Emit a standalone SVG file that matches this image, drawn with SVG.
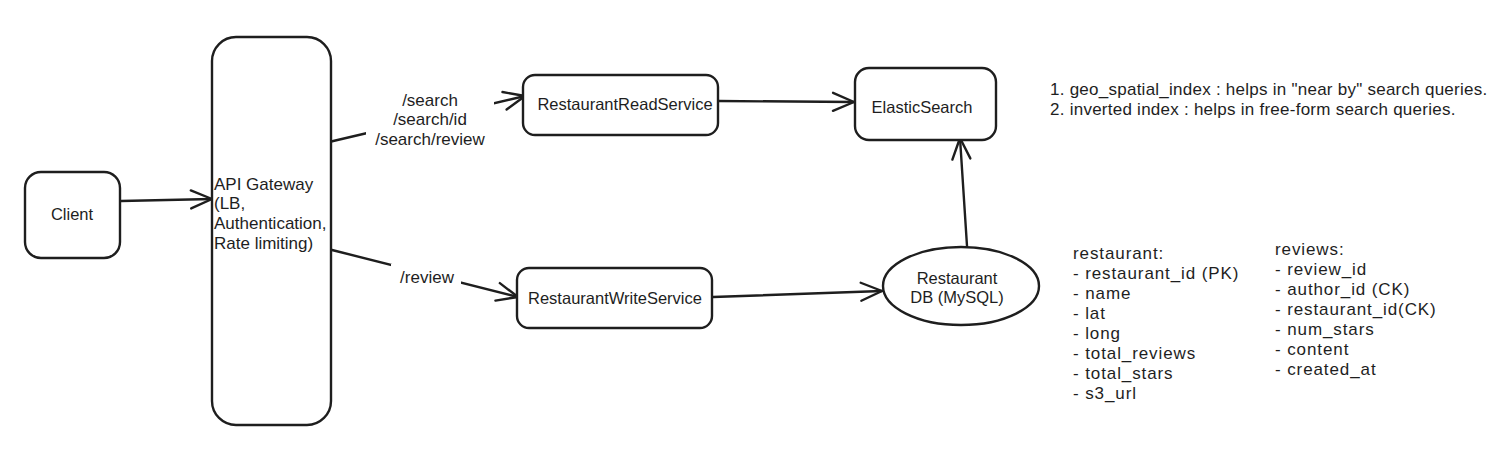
<svg xmlns="http://www.w3.org/2000/svg" width="1507" height="453" viewBox="0 0 1507 453">
<defs>
<style>
.box{fill:#fff;stroke:#1e1e1e;stroke-width:2.4}
.edge{fill:none;stroke:#1e1e1e;stroke-width:2.4;stroke-linecap:round}
text{font-family:"Liberation Sans",Arial,sans-serif;font-size:17px;fill:#1e1e1e}
.c{text-anchor:middle}
.bl{font-size:16.5px}
.sc{letter-spacing:0.9px}
.nt{letter-spacing:0.25px}
.lbl-bg{fill:#fff;stroke:none}
</style>
<marker id="arr" markerUnits="userSpaceOnUse" markerWidth="28" markerHeight="28" viewBox="-24 -12 28 24" refX="0" refY="0" orient="auto">
<path d="M-21,-9 L0,0 L-21,9" fill="none" stroke="#1e1e1e" stroke-width="2.4" stroke-linecap="round" stroke-linejoin="round"/>
</marker>
</defs>
<rect width="1507" height="453" fill="#fff"/>

<g id="connectors">
<line class="edge" x1="121" y1="201" x2="212" y2="199" stroke-width="3.2" marker-end="url(#arr)"/>
<line class="edge" x1="329" y1="142" x2="525" y2="96" marker-end="url(#arr)"/>
<line class="edge" x1="332" y1="250" x2="518" y2="297" marker-end="url(#arr)"/>
<line class="edge" x1="719" y1="101" x2="854" y2="102" marker-end="url(#arr)"/>
<line class="edge" x1="713" y1="297" x2="882" y2="291" marker-end="url(#arr)"/>
<line class="edge" x1="967" y1="246" x2="960" y2="138" marker-end="url(#arr)"/>
<g id="label-search">
<rect class="lbl-bg" x="366" y="86" width="128" height="60"/>
<text class="c" x="430" y="106">/search</text>
<text class="c" x="430" y="125">/search/id</text>
<text class="c" x="430" y="145">/search/review</text>
</g>
<g id="label-review">
<rect class="lbl-bg" x="391" y="264" width="70" height="24"/>
<text class="c" x="427" y="283">/review</text>
</g>
</g>

<g id="client">
<rect class="box" x="25" y="172" width="95" height="86" rx="16"/>
<text class="c bl" x="72" y="220">Client</text>
</g>

<g id="api-gateway">
<rect class="box" x="212" y="37" width="119" height="388" rx="24"/>
<text x="214" y="190">API Gateway</text>
<text x="214" y="209">(LB,</text>
<text x="214" y="229">Authentication,</text>
<text x="214" y="249">Rate limiting)</text>
</g>

<g id="read-service">
<rect class="box" x="523" y="75" width="195" height="60" rx="12"/>
<text class="c bl" x="625" y="110">RestaurantReadService</text>
</g>

<g id="elasticsearch">
<rect class="box" x="855" y="68" width="141" height="72" rx="14"/>
<text class="c bl" x="922" y="113">ElasticSearch</text>
</g>

<g id="write-service">
<rect class="box" x="517" y="268" width="195" height="60" rx="12"/>
<text class="c bl" x="615" y="304">RestaurantWriteService</text>
</g>

<g id="restaurant-db">
<ellipse class="box" cx="961" cy="286" rx="78" ry="39"/>
<text class="c bl" x="957" y="284">Restaurant</text>
<text class="c bl" x="957" y="303">DB (MySQL)</text>
</g>

<g id="notes">
<text class="nt" x="1050" y="95">1. geo_spatial_index : helps in "near by" search queries.</text>
<text class="nt" x="1050" y="115">2. inverted index : helps in free-form search queries.</text>
</g>

<g id="restaurant-schema">
<text class="sc" x="1073" y="259">restaurant:</text>
<text class="sc" x="1073" y="279">- restaurant_id (PK)</text>
<text class="sc" x="1073" y="299">- name</text>
<text class="sc" x="1073" y="319">- lat</text>
<text class="sc" x="1073" y="339">- long</text>
<text class="sc" x="1073" y="359">- total_reviews</text>
<text class="sc" x="1073" y="379">- total_stars</text>
<text class="sc" x="1073" y="399">- s3_url</text>
</g>

<g id="reviews-schema">
<text class="sc" x="1275" y="255">reviews:</text>
<text class="sc" x="1275" y="275">- review_id</text>
<text class="sc" x="1275" y="295">- author_id (CK)</text>
<text class="sc" x="1275" y="315">- restaurant_id(CK)</text>
<text class="sc" x="1275" y="335">- num_stars</text>
<text class="sc" x="1275" y="355">- content</text>
<text class="sc" x="1275" y="375">- created_at</text>
</g>
</svg>
